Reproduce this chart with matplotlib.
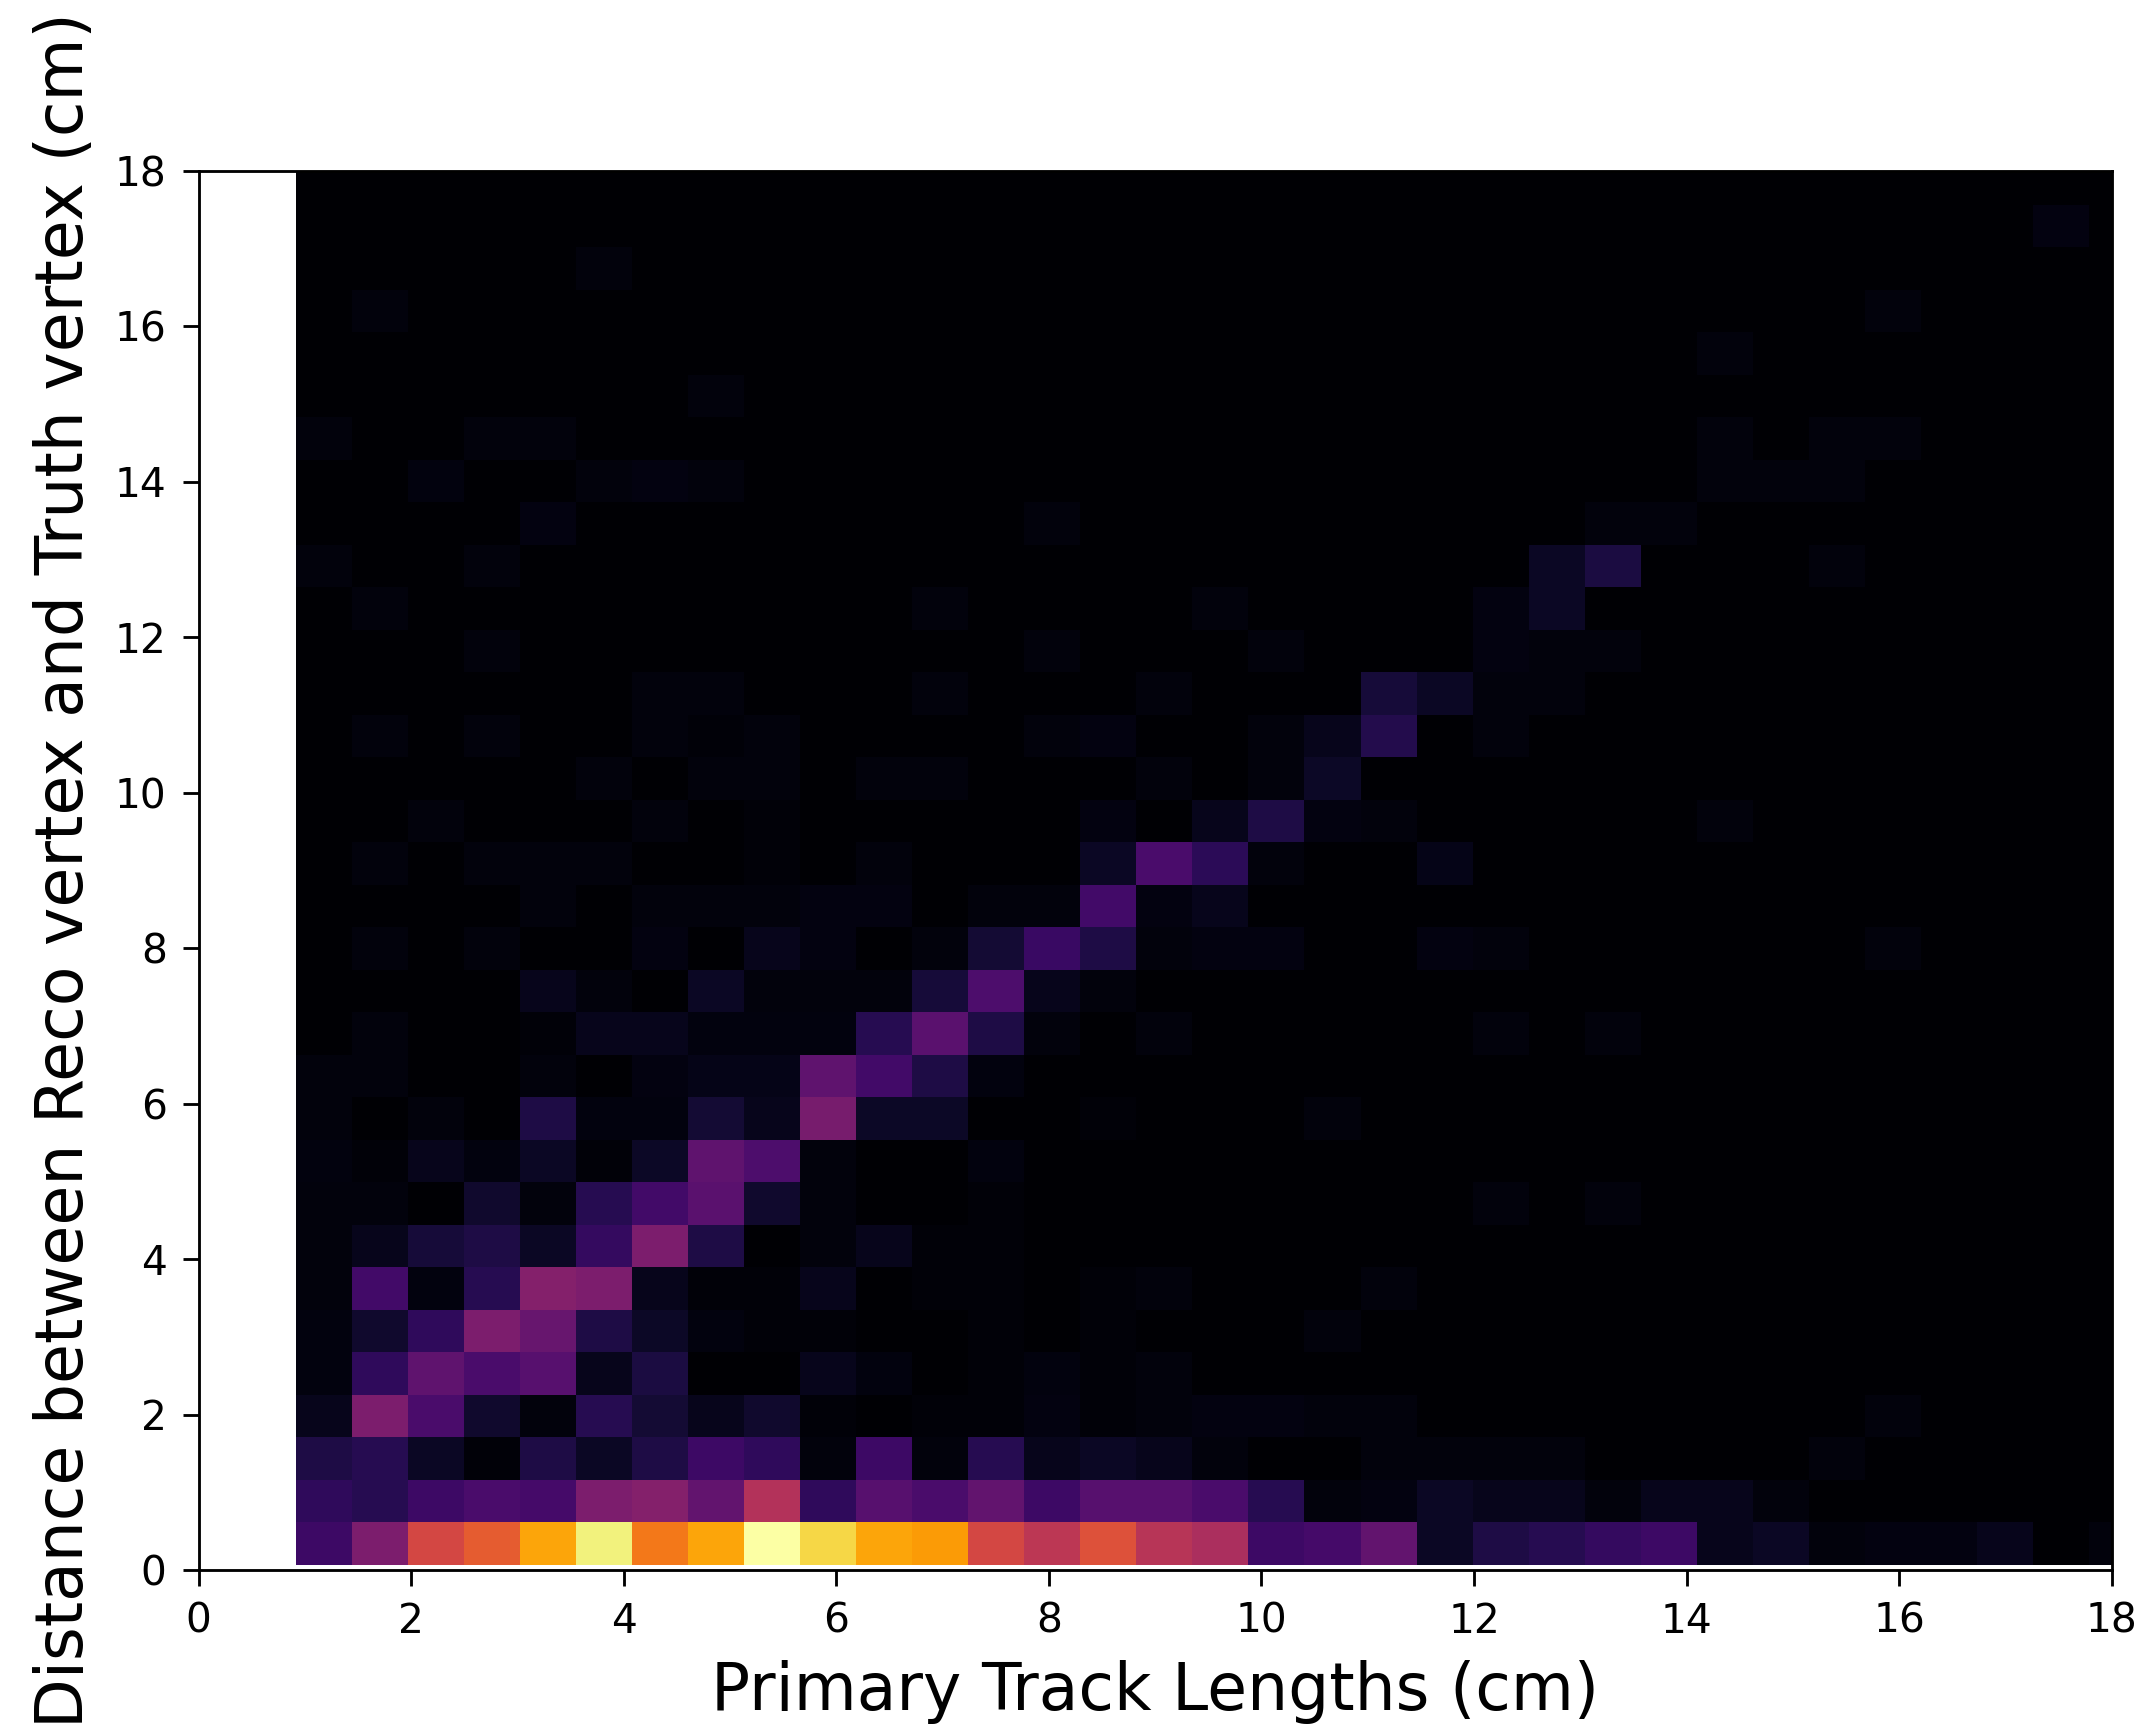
import numpy as np
import matplotlib
matplotlib.use("Agg")
import matplotlib.pyplot as plt

# 2D histogram: primary track length (x) vs reco-truth vertex distance (y)
n_bins = 33
track_len_range = (0.918, 18.31)
vertex_dist_range = (0.064, 18.115)

# bin contents, top row (largest distance) first
counts_top_down = [
    [0, 0, 0, 0, 0, 0, 0, 0, 0, 0, 0,  0, 0, 0, 0, 0, 0, 0, 0, 0, 0, 0,  0, 0, 0, 0, 0, 0, 0, 0, 0, 0, 0],
    [0, 0, 0, 0, 0, 0, 0, 0, 0, 0, 0,  0, 0, 0, 0, 0, 0, 0, 0, 0, 0, 0,  0, 0, 0, 0, 0, 0, 0, 0, 0, 3, 0],
    [0, 0, 0, 0, 0, 2, 0, 0, 0, 0, 0,  0, 0, 0, 0, 0, 0, 0, 0, 0, 0, 0,  0, 0, 0, 0, 0, 0, 0, 0, 0, 0, 0],
    [0, 2, 0, 0, 0, 0, 0, 0, 0, 0, 0,  0, 0, 0, 0, 0, 0, 0, 0, 0, 0, 0,  0, 0, 0, 0, 0, 0, 2, 0, 0, 0, 0],
    [0, 0, 0, 0, 0, 0, 0, 0, 0, 0, 0,  0, 0, 0, 0, 0, 0, 0, 0, 0, 0, 0,  0, 0, 0, 2, 0, 0, 0, 0, 0, 0, 0],
    [0, 0, 0, 0, 0, 0, 0, 2, 0, 0, 0,  0, 0, 0, 0, 0, 0, 0, 0, 0, 0, 0,  0, 0, 0, 0, 0, 0, 0, 0, 0, 0, 0],
    [2, 0, 0, 2, 2, 0, 0, 0, 0, 0, 0,  0, 0, 0, 0, 0, 0, 0, 0, 0, 0, 0,  0, 0, 0, 2, 0, 2, 2, 0, 0, 0, 0],
    [0, 0, 2.5, 0, 0, 2, 3, 2, 0, 0, 0,  0, 0, 0, 0, 0, 0, 0, 0, 0, 0, 0,  0, 0, 0, 2, 2, 2, 0, 0, 0, 0, 0],
    [0, 0, 0, 0, 3, 0, 0, 0, 0, 0, 0,  0, 0, 2, 0, 0, 0, 0, 0, 0, 0, 0,  0, 2, 2, 0, 0, 0, 0, 0, 0, 0, 0],
    [2, 0, 0, 2, 0, 0, 0, 0, 0, 0, 0,  0, 0, 0, 0, 0, 0, 0, 0, 0, 0, 0,  6.5, 11, 0, 0, 0, 2, 0, 0, 0, 0, 0],
    [0, 2, 0, 0, 0, 0, 0, 0, 0, 0, 0,  2, 0, 0, 0, 0, 2, 0, 0, 0, 0, 3,  6.5, 0, 0, 0, 0, 0, 0, 0, 0, 0, 0],
    [0, 0, 0, 2, 0, 0, 0, 0, 0, 0, 0,  0, 0, 2, 0, 0, 0, 2, 0, 0, 0, 3,  2, 2, 0, 0, 0, 0, 0, 0, 0, 0, 0],
    [0, 0, 0, 0, 0, 0, 2, 2, 0, 0, 0,  2, 0, 0, 0, 2, 0, 0, 0, 10, 6.5, 2,  2, 0, 0, 0, 0, 0, 0, 0, 0, 0, 0],
    [0, 2, 0, 2, 0, 0, 2, 1.5, 2, 0, 0,  0, 0, 2, 3, 0, 0, 2, 5, 13, 0, 2,  0, 0, 0, 0, 0, 0, 0, 0, 0, 0, 0],
    [0, 0, 0, 0, 0, 2, 0, 2, 2, 0, 2,  2, 0, 0, 0, 2, 0, 2, 7, 0, 0, 0,  0, 0, 0, 0, 0, 0, 0, 0, 0, 0, 0],
    [0, 0, 2, 0, 0, 0, 2, 0, 1.5, 0, 0,  0, 0, 0, 3, 0, 5, 12, 3, 2, 0, 0,  0, 0, 0, 2, 0, 0, 0, 0, 0, 0, 0],
    [0, 2, 0, 2, 2, 2, 0, 0, 1.5, 0, 2,  0, 0, 0, 6.5, 22, 15, 2, 0, 0, 4, 0,  0, 0, 0, 0, 0, 0, 0, 0, 0, 0, 0],
    [0, 0, 0, 0, 2, 0, 2, 2, 2, 3, 3,  0, 2, 2, 20, 3, 5, 0, 0, 0, 0, 0,  0, 0, 0, 0, 0, 0, 0, 0, 0, 0, 0],
    [0, 2, 0, 2, 0, 0, 3, 0, 5, 3, 0,  2, 9, 18, 12, 2, 3, 3, 0, 0, 3, 2,  0, 0, 0, 0, 0, 0, 2, 0, 0, 0, 0],
    [0, 0, 0, 0, 5, 2, 0, 6.5, 2, 2, 2,  10, 23, 5, 2, 0, 0, 0, 0, 0, 0, 0,  0, 0, 0, 0, 0, 0, 0, 0, 0, 0, 0],
    [0, 2, 0, 0, 1.5, 5, 5, 2.5, 2.5, 2.5, 14,  26, 12, 2, 0, 2, 0, 0, 0, 0, 0, 2,  0, 2, 0, 0, 0, 0, 0, 0, 0, 0, 0],
    [2, 2, 0, 0, 2, 0, 3, 4, 4, 27, 20,  12, 2.5, 0, 0, 0, 0, 0, 0, 0, 0, 0,  0, 0, 0, 0, 0, 0, 0, 0, 0, 0, 0],
    [2, 0, 2, 0, 12, 2.5, 2.5, 9, 5, 33, 7,  7, 0, 0, 1.5, 0, 0, 0, 2, 0, 0, 0,  0, 0, 0, 0, 0, 0, 0, 0, 0, 0, 0],
    [2.5, 1.5, 5, 2.5, 6.5, 1.5, 7, 27, 23, 2, 0,  0, 2.5, 0, 0, 0, 0, 0, 0, 0, 0, 0,  0, 0, 0, 0, 0, 0, 0, 0, 0, 0, 0],
    [2, 2, 0, 8, 2, 14, 20, 26, 8, 2, 0,  0, 1.5, 0, 0, 0, 0, 0, 0, 0, 0, 2,  0, 2, 0, 0, 0, 0, 0, 0, 0, 0, 0],
    [2, 5, 10, 12, 6.5, 17, 34, 12, 0, 2, 5,  1.5, 1.5, 0, 0, 0, 0, 0, 0, 0, 0, 0,  0, 0, 0, 0, 0, 0, 0, 0, 0, 0, 0],
    [2, 20, 2.5, 14, 36, 34, 5, 1.5, 1.5, 5, 0,  1.5, 1.5, 0, 1.5, 2, 0, 0, 0, 2, 0, 0,  0, 0, 0, 0, 0, 0, 0, 0, 0, 0, 0],
    [2.5, 8, 16, 34, 29, 12, 7, 2.5, 1.5, 1.5, 0,  0, 1.5, 0, 1.5, 0, 0, 0, 2, 0, 0, 0,  0, 0, 0, 0, 0, 0, 0, 0, 0, 0, 0],
    [2.5, 16, 27, 22, 25, 5, 11, 0, 0, 5, 2.5,  0, 1.5, 2.5, 1.5, 2, 0, 0, 0, 0, 0, 0,  0, 0, 0, 0, 0, 0, 0, 0, 0, 0, 0],
    [5, 34, 22, 8, 2, 14, 9, 5, 8, 1.5, 0,  1.5, 1.5, 3, 1.5, 2, 3, 3, 2, 2, 0, 0,  0, 0, 0, 0, 0, 0, 2, 0, 0, 0, 0],
    [12, 14, 6.5, 1.5, 12, 6.5, 12, 19, 16, 2, 19,  2, 14, 5, 6.5, 5, 2, 0, 0, 2, 2, 2,  2, 0, 0, 0, 0, 2, 0, 0, 0, 0, 0],
    [16, 14, 19, 22, 21, 34, 36, 28, 48, 16, 25,  22, 28, 19, 25, 25, 22, 14, 2, 3, 6.5, 5,  5, 2, 5, 5, 2, 0, 0, 0, 0, 0, 0],
    [19, 34, 57, 63, 80, 96, 70, 80, 100, 90, 80,  78, 57, 50, 60, 49, 46, 19, 21, 28, 6.5, 12,  14, 17, 19, 5, 6.5, 2, 3, 3, 5, 0, 2],
]

counts = np.flipud(np.array(counts_top_down, dtype=float))
xedges = np.linspace(*track_len_range, n_bins + 1)
yedges = np.linspace(*vertex_dist_range, n_bins + 1)

fig = plt.figure(figsize=(2146 / 255, 1726 / 255), dpi=255)
ax = fig.add_axes([0.0925, 0.0904, 0.8916, 0.8105])

ax.pcolormesh(xedges, yedges, counts, cmap="inferno", vmin=0, vmax=counts.max())

ax.set_xlim(0, 18)
ax.set_ylim(0, 18)
ax.set_xlabel("Primary Track Lengths (cm)", fontsize=18.3, labelpad=5)
ax.set_ylabel("Distance between Reco vertex and Truth vertex (cm)", fontsize=18.3, labelpad=5)
ax.tick_params(labelsize=11.5, length=4.5, pad=4.5)

fig.savefig("out.png", dpi=255)
